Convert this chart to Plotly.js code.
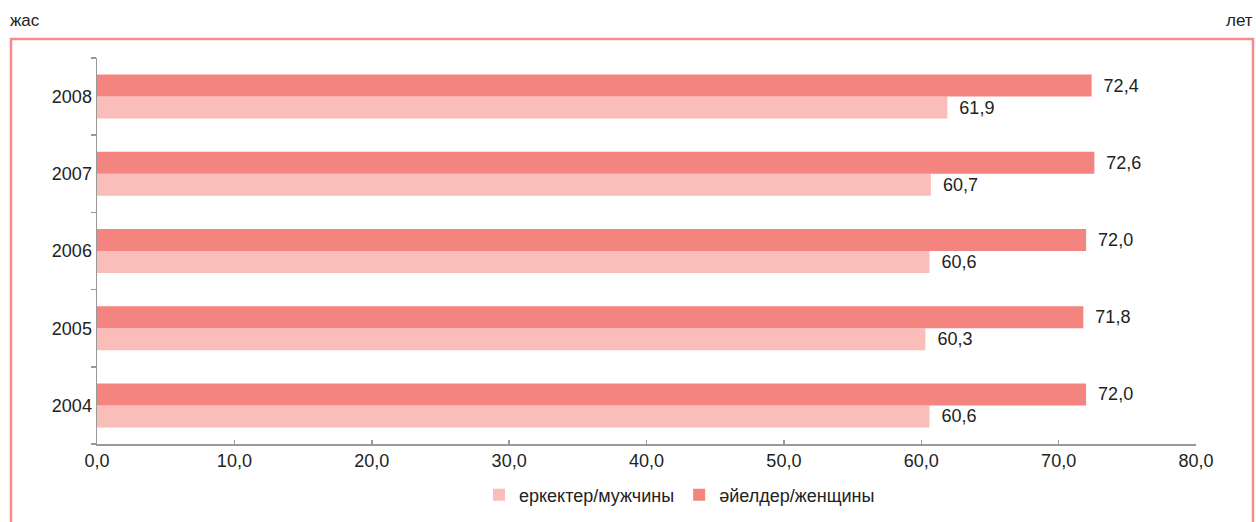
<!DOCTYPE html>
<html>
<head>
<meta charset="utf-8">
<script src="https://cdn.plot.ly/plotly-3.0.1.min.js"></script>
<style>html,body{margin:0;padding:0;background:#fff;}#chart{width:1256px;height:522px;}</style>
</head>
<body>
<div id="chart"></div>
<script>
var years = ['2004', '2005', '2006', '2007', '2008'];
var men = [60.6, 60.3, 60.6, 60.7, 61.9];
var women = [72.0, 71.8, 72.0, 72.6, 72.4];
var seriesNames = ['еркектер/мужчины', 'әйелдер/женщины'];
var xTicks = [0, 10, 20, 30, 40, 50, 60, 70, 80];
var unitLeft = 'жас';
var unitRight = 'лет';

var font = 'Liberation Sans, Arial, sans-serif';
var menColor = 'rgb(249,190,185)';
var womenColor = 'rgb(243,132,128)';

var traces = [
  {
    type: 'bar', orientation: 'h', name: seriesNames[0],
    y: years, x: men, marker: {color: menColor},
    texttemplate: '\u2002%{x:.1f}', textposition: 'outside', cliponaxis: false,
    textfont: {family: font, size: 18, color: '#222'}, hoverinfo: 'none'
  },
  {
    type: 'bar', orientation: 'h', name: seriesNames[1],
    y: years, x: women, marker: {color: womenColor},
    texttemplate: '\u2002%{x:.1f}', textposition: 'outside', cliponaxis: false,
    textfont: {family: font, size: 18, color: '#222'}, hoverinfo: 'none'
  }
];

var layout = {
  width: 1256, height: 522,
  margin: {l: 97, r: 60, t: 58, b: 78, autoexpand: false},
  paper_bgcolor: '#fff', plot_bgcolor: '#fff',
  separators: ', ',
  font: {family: font, size: 18, color: '#222'},
  barmode: 'group', bargap: 0.43, bargroupgap: 0,
  showlegend: true,
  legend: {orientation: 'h', x: 0.53, xanchor: 'center', yref: 'container', y: (522 - 495) / 522, yanchor: 'middle',
           itemwidth: 30, font: {family: font, size: 18, color: '#222'}, traceorder: 'normal'},
  xaxis: {
    range: [0, 80], tickvals: xTicks, tickformat: '.1f', automargin: false,
    showgrid: false, zeroline: false, showline: true, linecolor: '#999', linewidth: 1.5,
    ticks: 'inside', ticklen: 4, tickcolor: '#999', tickwidth: 1.5,
    tickfont: {family: font, size: 18, color: '#222'}, fixedrange: true
  },
  yaxis: {
    type: 'category', categoryorder: 'array', categoryarray: years, automargin: false,
    showgrid: false, zeroline: false, showline: true, linecolor: '#999', linewidth: 1.5,
    ticks: 'outside', ticklen: 5, tickcolor: '#999', tickwidth: 1.5, tickson: 'boundaries',
    tickfont: {family: font, size: 18, color: '#222'}, fixedrange: true
  },
  shapes: [
    {type: 'rect', xref: 'paper', yref: 'paper',
     x0: (11 - 97) / 1099, x1: (1253 - 97) / 1099,
     y0: (444 - 540) / 386, y1: (444 - 39) / 386,
     line: {color: 'rgb(244,140,140)', width: 2.5}, layer: 'below'}
  ],
  annotations: [
    {text: unitLeft, xref: 'paper', yref: 'paper', x: (8 - 97) / 1099, y: (444 - 20) / 386,
     xanchor: 'left', yanchor: 'middle', showarrow: false, font: {family: font, size: 17, color: '#222'}},
    {text: unitRight, xref: 'paper', yref: 'paper', x: (1255 - 97) / 1099, y: (444 - 20) / 386,
     xanchor: 'right', yanchor: 'middle', showarrow: false, font: {family: font, size: 17, color: '#222'}}
  ]
};

Plotly.newPlot('chart', traces, layout, {displayModeBar: false, staticPlot: true});
</script>
</body>
</html>
